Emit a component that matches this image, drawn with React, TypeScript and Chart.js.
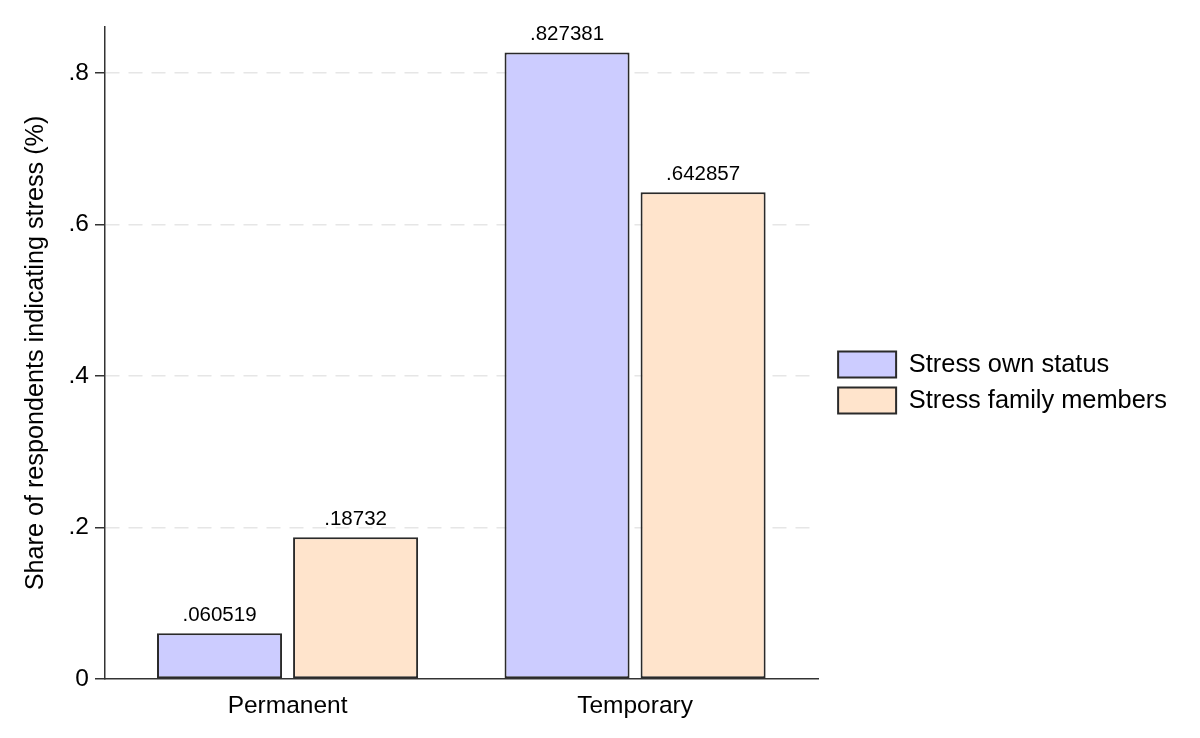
import React, { useRef, useEffect } from 'react';
import { Chart, registerables } from 'chart.js';

Chart.register(...registerables);

const categories = ['Permanent', 'Temporary'];
const seriesNames = ['Stress own status', 'Stress family members'];
const ownStatus = [0.060519, 0.827381];
const familyMembers = [0.18732, 0.642857];
const yTicks = [0, 0.2, 0.4, 0.6, 0.8];

const fmt = (v: number) => String(v).replace(/^0\./, '.');

const valueLabels = {
  id: 'valueLabels',
  afterDatasetsDraw(chart: Chart) {
    const ctx = chart.ctx;
    ctx.save();
    ctx.font = '20.5px "Liberation Sans", Arial, sans-serif';
    ctx.fillStyle = '#000';
    ctx.textAlign = 'center';
    ctx.textBaseline = 'alphabetic';
    chart.data.datasets.forEach((ds, i) => {
      const meta = chart.getDatasetMeta(i);
      meta.data.forEach((el: any, j) => {
        const v = (ds.data[j] as any).y as number;
        ctx.fillText(fmt(v), el.x, el.y - 12);
      });
    });
    ctx.restore();
  },
};

export default function App() {
  const canvasRef = useRef<HTMLCanvasElement | null>(null);
  const chartRef = useRef<Chart | null>(null);

  useEffect(() => {
    if (!canvasRef.current) return;
    Chart.defaults.font.family = '"Liberation Sans", Arial, sans-serif';
    Chart.defaults.color = '#000';

    chartRef.current = new Chart(canvasRef.current, {
      type: 'bar',
      data: {
        datasets: [
          {
            label: seriesNames[0],
            data: categories.map((_, i) => ({ x: i + 1, y: ownStatus[i] })),
            backgroundColor: '#ccccff',
            borderColor: '#2a2a2a',
            borderWidth: 2,
            borderSkipped: false,
          },
          {
            label: seriesNames[1],
            data: categories.map((_, i) => ({ x: i + 1, y: familyMembers[i] })),
            backgroundColor: '#ffe4cc',
            borderColor: '#2a2a2a',
            borderWidth: 2,
            borderSkipped: false,
          },
        ] as any,
      },
      options: {
        animation: false,
        responsive: true,
        maintainAspectRatio: false,
        categoryPercentage: 0.783,
        barPercentage: 0.919,
        layout: { padding: { left: 0, top: 27, right: 23, bottom: 0 } },
        plugins: {
          legend: {
            position: 'right',
            maxWidth: 500,
            labels: {
              boxWidth: 58,
              boxHeight: 26,
              padding: 10,
              color: '#000',
              font: { size: 25.4 },
            },
          },
          tooltip: { enabled: false },
        },
        scales: {
          x: {
            type: 'linear',
            offset: false,
            min: 0.4747,
            max: 2.5267,
            afterBuildTicks: (s: any) => {
              s.ticks = categories.map((_, i) => ({ value: i + 1 }));
            },
            afterFit: (s: any) => {
              s.height = 59;
            },
            ticks: {
              padding: 13,
              font: { size: 24.5 },
              color: '#000',
              callback: (v: any) => categories[Math.round(Number(v)) - 1] ?? '',
            },
            grid: { display: false, drawTicks: false, offset: false },
            border: { display: true, color: '#333', width: 1.5 },
          },
          y: {
            type: 'linear',
            min: 0,
            max: 0.861,
            afterBuildTicks: (s: any) => {
              s.ticks = yTicks.map((v) => ({ value: v }));
            },
            afterFit: (s: any) => {
              s.width = 105;
            },
            ticks: {
              padding: 6,
              font: { size: 24.5 },
              color: '#000',
              callback: (v: any) => (Number(v) === 0 ? '0' : fmt(Number(v))),
            },
            grid: {
              color: (c: any) => (c.tick && c.tick.value === 0 ? 'rgba(0,0,0,0)' : '#e6e6e6'),
              lineWidth: 1.5,
              tickLength: 10,
              tickColor: '#333',
              tickWidth: 1.5,
              tickBorderDash: [],
            },
            border: { display: true, color: '#333', width: 1.5, dash: [14, 9] },
            title: {
              display: true,
              text: 'Share of respondents indicating stress (%)',
              font: { size: 25.2 },
              color: '#000',
              padding: { top: 21, bottom: 0 },
            },
          },
          yRight: {
            type: 'linear',
            axis: 'y',
            position: 'right',
            display: true,
            afterFit: (s: any) => {
              s.width = 10;
            },
            ticks: { display: false },
            grid: { display: false, drawTicks: false },
            border: { display: false },
          },
        },
      } as any,
      plugins: [valueLabels],
    });

    return () => {
      if (chartRef.current) {
        chartRef.current.destroy();
        chartRef.current = null;
      }
    };
  }, []);

  return (
    <div style={{ position: 'fixed', left: 0, top: 0, width: 1200, height: 738, background: '#fff' }}>
      <canvas ref={canvasRef} />
    </div>
  );
}
